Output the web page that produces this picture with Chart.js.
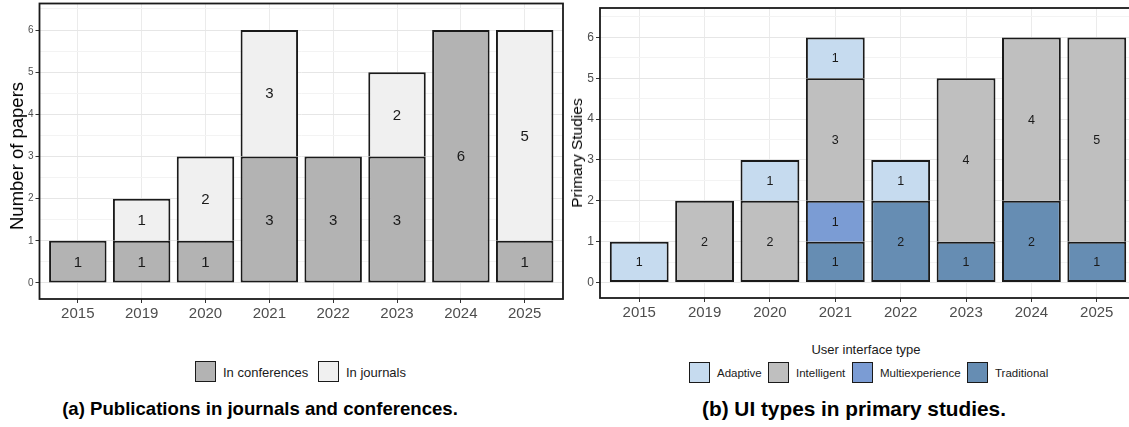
<!DOCTYPE html>
<html>
<head>
<meta charset="utf-8">
<script src="https://cdn.jsdelivr.net/npm/chart.js@4.4.1/dist/chart.umd.min.js"></script>
<style>
  html, body { margin: 0; padding: 0; background: #fff; }
  #page { position: relative; width: 1129px; height: 427px; overflow: hidden; background: #fff;
          font-family: "Liberation Sans", Arial, sans-serif; color: #1a1a1a; }
  canvas { position: absolute; top: 0; }
  .ytitle { position: absolute; white-space: nowrap; transform: translate(-50%, -50%) rotate(-90deg); color: #000; }
  .caption { position: absolute; white-space: nowrap; transform: translate(-50%, -50%); font-weight: bold; color: #000; }
  .ltitle { position: absolute; white-space: nowrap; transform: translate(-50%, -50%); font-size: 13px; }
  .key { position: absolute; box-sizing: border-box; width: 21px; height: 21px; border: 1.8px solid #1a1a1a; }
  .klabel { position: absolute; white-space: nowrap; transform: translateY(-50%); }
</style>
</head>
<body>
<div id="page">
  <canvas id="pubChart" width="580" height="330" style="left:0"></canvas>
  <canvas id="uiChart" width="600" height="330" style="left:560px"></canvas>
  <div class="ytitle" style="left:17px; top:156px; font-size:18.5px">Number of papers</div>
  <div class="ytitle" style="left:577px; top:153px; font-size:15.5px">Primary Studies</div>
  <div class="ltitle" style="left:866px; top:349px">User interface type</div>
  <div class="caption" style="left:260px; top:409px; font-size:18.6px">(a) Publications in journals and conferences.</div>
  <div class="caption" style="left:854px; top:409px; font-size:20.8px">(b) UI types in primary studies.</div>
</div>
<script>
// Publication years (shared by both panels)
const years = ['2015', '2019', '2020', '2021', '2022', '2023', '2024', '2025'];

// Panel (a): papers per venue type
const inConferences = [1, 1, 1, 3, 3, 3, 6, 1];
const inJournals    = [null, 1, 2, 3, null, 2, null, 5];

// Panel (b): primary studies per UI type (stacked bottom to top)
const traditional     = [null, null, null, 1, 2, 1, 2, 1];
const multiexperience = [null, null, null, 1, null, null, null, null];
const intelligent     = [null, 2, 2, 3, null, 4, 4, 5];
const adaptive        = [1, null, 1, 1, 1, null, null, null];

// Y axis labels
const yTickLabels = [0, 1, 2, 3, 4, 5, 6];

const FONT = '"Liberation Sans", Arial, sans-serif';
const EDGE = 2;

function toPoints(arr) { return arr.map((v, i) => ({ x: i, y: v })); }

// Outline each segment; stacked segments skip their bottom edge so shared edges stay single
function segmentBorder(ctx) {
  const ds = ctx.chart.data.datasets;
  const i = ctx.dataIndex;
  for (let k = 0; k < ctx.datasetIndex; k++) {
    if (ds[k].data[i] && ds[k].data[i].y != null) return { top: EDGE, left: EDGE, right: EDGE, bottom: 0 };
  }
  return EDGE;
}

// Count labels centred in every segment
const segmentLabels = {
  id: 'segmentLabels',
  afterDatasetsDraw(chart, args, opts) {
    const c = chart.ctx;
    c.save();
    c.font = opts.size + 'px ' + FONT;
    c.fillStyle = '#1a1a1a';
    c.textAlign = 'center';
    c.textBaseline = 'middle';
    chart.data.datasets.forEach((ds, di) => {
      const meta = chart.getDatasetMeta(di);
      meta.data.forEach((el, i) => {
        const v = ds.data[i].y;
        if (v == null) return;
        c.fillText(String(v), el.x, (el.y + el.base) / 2 + 1);
      });
    });
    c.restore();
  }
};

// Black panel frame
const panelFrame = {
  id: 'panelFrame',
  afterDraw(chart) {
    const a = chart.chartArea, c = chart.ctx;
    c.save();
    c.strokeStyle = '#1a1a1a';
    c.lineWidth = 1.8;
    c.strokeRect(a.left, a.top, a.right - a.left, a.bottom - a.top);
    c.restore();
  }
};

function makeOptions(cfg) {
  return {
    responsive: false,
    animation: false,
    devicePixelRatio: 1,
    layout: { padding: { left: 0, top: cfg.top, right: cfg.right, bottom: 0 } },
    plugins: {
      legend: { display: false },
      tooltip: { enabled: false },
      segmentLabels: { size: cfg.labelSize }
    },
    datasets: { bar: { barPercentage: 0.9, categoryPercentage: 1.0 } },
    scales: {
      x: {
        type: 'linear', stacked: true, offset: false,
        min: -0.6, max: 7.6,
        afterBuildTicks: s => { s.ticks = years.map((_, i) => ({ value: i })); },
        afterFit: s => { s.height = cfg.xAxisHeight; s.paddingLeft = 0; s.paddingRight = 0; },
        border: { display: false },
        grid: { offset: false, color: '#EBEBEB', lineWidth: 1, drawTicks: true, tickLength: 4, tickColor: '#333333' },
        ticks: {
          autoSkip: false, maxRotation: 0, padding: 2,
          color: '#4D4D4D', font: { family: FONT, size: 15 },
          callback: v => years[v]
        }
      },
      y: {
        stacked: true,
        min: cfg.yMin, max: cfg.yMax,
        afterBuildTicks: s => {
          const t = [];
          yTickLabels.forEach(v => { t.push({ value: v }); t.push({ value: v + 0.5 }); });
          s.ticks = t;
        },
        afterFit: s => { s.width = cfg.yAxisWidth; s.paddingTop = 0; s.paddingBottom = 0; },
        border: { display: false },
        grid: {
          color: c => Number.isInteger(c.tick.value) ? '#E6E6E6' : '#F3F3F3',
          lineWidth: 1,
          drawTicks: true, tickLength: 4,
          tickColor: c => Number.isInteger(c.tick.value) ? '#333333' : 'rgba(0,0,0,0)'
        },
        ticks: {
          padding: 2, color: '#4D4D4D', font: { family: FONT, size: cfg.yTickSize },
          callback: v => Number.isInteger(v) ? String(v) : ''
        }
      }
    }
  };
}

// Panel (a)
new Chart(document.getElementById('pubChart'), {
  type: 'bar',
  data: {
    datasets: [
      { label: 'In conferences', data: toPoints(inConferences), backgroundColor: '#B3B3B3',
        borderColor: '#1a1a1a', borderWidth: segmentBorder, borderSkipped: false },
      { label: 'In journals', data: toPoints(inJournals), backgroundColor: '#F0F0F0',
        borderColor: '#1a1a1a', borderWidth: segmentBorder, borderSkipped: false }
    ]
  },
  options: makeOptions({ top: 3.5, right: 17, yAxisWidth: 39.5, xAxisHeight: 31,
                         yMin: -0.38, yMax: 6.63, yTickSize: 10, labelSize: 15 }),
  plugins: [segmentLabels, panelFrame]
});

// Panel (b)
new Chart(document.getElementById('uiChart'), {
  type: 'bar',
  data: {
    datasets: [
      { label: 'Traditional', data: toPoints(traditional), backgroundColor: '#668DB3',
        borderColor: '#1a1a1a', borderWidth: segmentBorder, borderSkipped: false },
      { label: 'Multiexperience', data: toPoints(multiexperience), backgroundColor: '#7B9CD4',
        borderColor: '#1a1a1a', borderWidth: segmentBorder, borderSkipped: false },
      { label: 'Intelligent', data: toPoints(intelligent), backgroundColor: '#BFBFBF',
        borderColor: '#1a1a1a', borderWidth: segmentBorder, borderSkipped: false },
      { label: 'Adaptive', data: toPoints(adaptive), backgroundColor: '#C6DBEF',
        borderColor: '#1a1a1a', borderWidth: segmentBorder, borderSkipped: false }
    ]
  },
  options: makeOptions({ top: 8, right: 24, yAxisWidth: 40, xAxisHeight: 32,
                         yMin: -0.38, yMax: 6.72, yTickSize: 12, labelSize: 12.5 }),
  plugins: [segmentLabels, panelFrame]
});

// Legends
const page = document.getElementById('page');
function addKey(left, top, color, label, size) {
  const k = document.createElement('div');
  k.className = 'key';
  k.style.left = left + 'px';
  k.style.top = top + 'px';
  k.style.background = color;
  page.appendChild(k);
  const t = document.createElement('div');
  t.className = 'klabel';
  t.textContent = label;
  t.style.left = (left + 28) + 'px';
  t.style.top = (top + 10.5) + 'px';
  t.style.fontSize = size + 'px';
  page.appendChild(t);
}
addKey(195, 361, '#B3B3B3', 'In conferences', 13);
addKey(318, 361, '#F0F0F0', 'In journals', 13);
addKey(689, 362, '#C6DBEF', 'Adaptive', 11.5);
addKey(768, 362, '#BFBFBF', 'Intelligent', 11.5);
addKey(852, 362, '#7B9CD4', 'Multiexperience', 11.5);
addKey(967, 362, '#668DB3', 'Traditional', 11.5);
</script>
</body>
</html>
